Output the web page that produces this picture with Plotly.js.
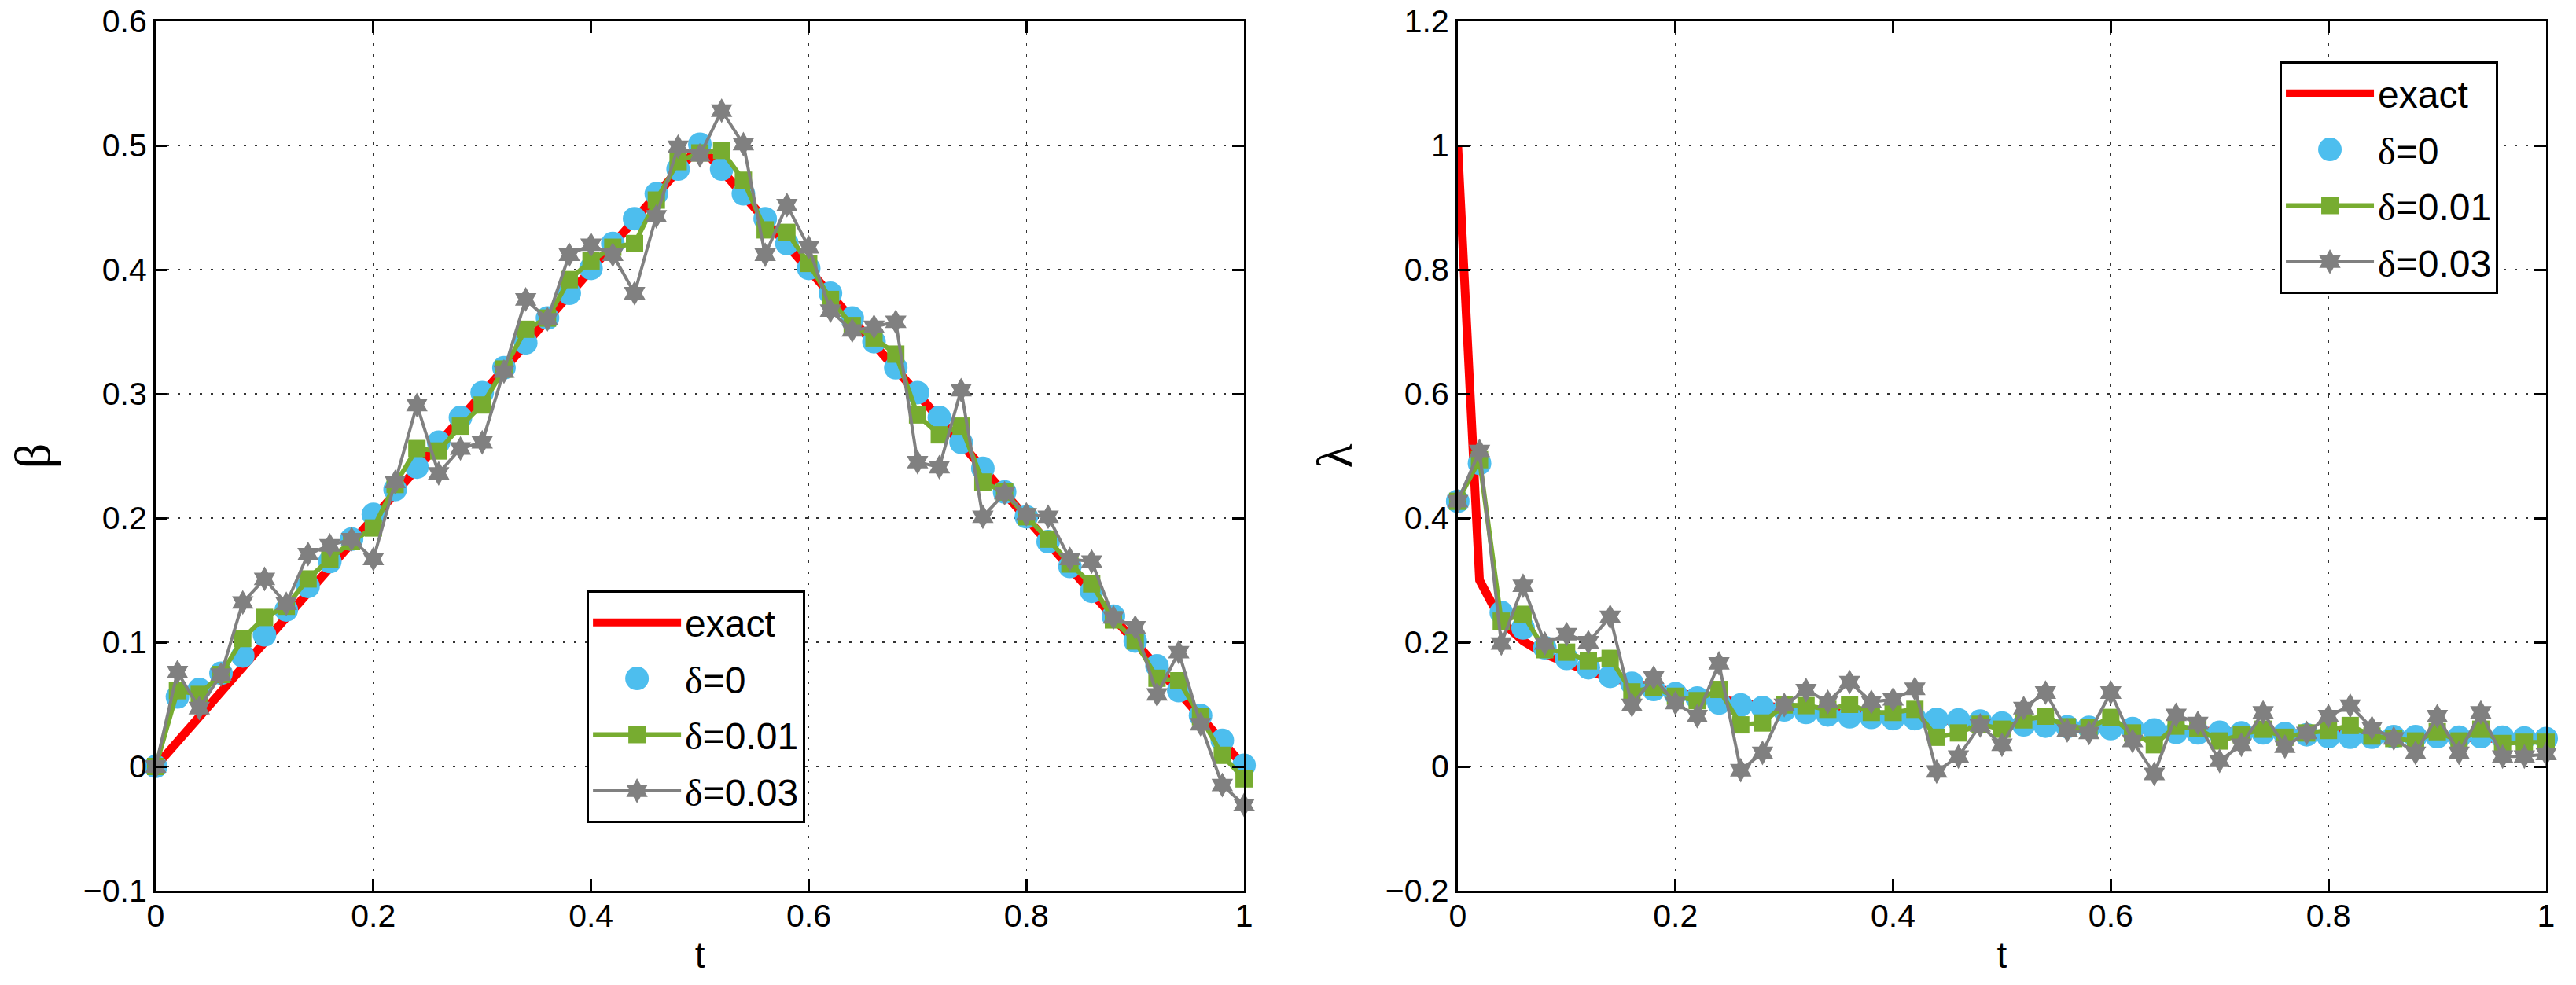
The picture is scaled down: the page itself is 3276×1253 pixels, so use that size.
<!DOCTYPE html>
<html>
<head>
<meta charset="utf-8">
<script src="https://cdn.plot.ly/plotly-3.0.1.min.js"></script>
<style>
  html, body { margin: 0; padding: 0; background: #fff; }
  #chart { width: 3276px; height: 1253px; }
</style>
</head>
<body>
<div id="chart"></div>
<script>
// sample times
const t = [0, 0.02, 0.04, 0.06, 0.08, 0.1, 0.12, 0.14, 0.16, 0.18, 0.2, 0.22, 0.24, 0.26, 0.28, 0.3, 0.32, 0.34, 0.36, 0.38, 0.4,
           0.42, 0.44, 0.46, 0.48, 0.5, 0.52, 0.54, 0.56, 0.58, 0.6, 0.62, 0.64, 0.66, 0.68, 0.7, 0.72, 0.74, 0.76, 0.78, 0.8,
           0.82, 0.84, 0.86, 0.88, 0.9, 0.92, 0.94, 0.96, 0.98, 1];

// beta (left panel)
const betaExact = [0, 0.02, 0.04, 0.06, 0.08, 0.1, 0.12, 0.14, 0.16, 0.18, 0.2, 0.22, 0.24, 0.26, 0.28, 0.3, 0.32, 0.34, 0.36, 0.38, 0.4,
                   0.42, 0.44, 0.46, 0.48, 0.5, 0.48, 0.46, 0.44, 0.42, 0.4, 0.38, 0.36, 0.34, 0.32, 0.3, 0.28, 0.26, 0.24, 0.22, 0.2,
                   0.18, 0.16, 0.14, 0.12, 0.1, 0.08, 0.06, 0.04, 0.02, 0];
const betaD0 = [0, 0.056, 0.062, 0.075, 0.089, 0.106, 0.126, 0.145, 0.165, 0.183, 0.203, 0.223, 0.241, 0.261, 0.281, 0.301, 0.321, 0.341, 0.361, 0.381, 0.401,
                0.421, 0.441, 0.461, 0.481, 0.501, 0.481, 0.461, 0.441, 0.421, 0.401, 0.381, 0.361, 0.342, 0.321, 0.301, 0.281, 0.261, 0.240, 0.221, 0.201,
                0.181, 0.161, 0.141, 0.121, 0.101, 0.081, 0.061, 0.041, 0.021, 0.001];
const betaD1 = [0, 0.061, 0.058, 0.074, 0.103, 0.120, 0.129, 0.151, 0.167, 0.181, 0.192, 0.227, 0.256, 0.254, 0.274, 0.291, 0.320, 0.352, 0.361, 0.392, 0.407,
                0.418, 0.421, 0.456, 0.487, 0.494, 0.496, 0.472, 0.432, 0.430, 0.405, 0.376, 0.355, 0.345, 0.332, 0.283, 0.267, 0.274, 0.229, 0.221, 0.201,
                0.183, 0.163, 0.147, 0.118, 0.101, 0.071, 0.069, 0.040, 0.009, -0.010];
const betaD3 = [0, 0.076, 0.047, 0.074, 0.132, 0.151, 0.131, 0.171, 0.178, 0.183, 0.167, 0.229, 0.291, 0.236, 0.256, 0.261, 0.318, 0.376, 0.360, 0.412, 0.420,
                0.412, 0.381, 0.443, 0.499, 0.492, 0.528, 0.501, 0.412, 0.452, 0.418, 0.367, 0.351, 0.354, 0.358, 0.245, 0.241, 0.303, 0.201, 0.220, 0.203,
                0.201, 0.167, 0.165, 0.120, 0.112, 0.058, 0.092, 0.034, -0.015, -0.031];

// lambda (right panel)
const lambdaExact = [1, 0.300, 0.234, 0.202, 0.181, 0.166, 0.153, 0.143, 0.134, 0.126, 0.119, 0.113, 0.107, 0.102, 0.098, 0.094, 0.090, 0.087, 0.084, 0.082, 0.079,
                     0.077, 0.075, 0.073, 0.071, 0.069, 0.067, 0.066, 0.064, 0.063, 0.061, 0.060, 0.059, 0.058, 0.056, 0.055, 0.054, 0.053, 0.052, 0.051, 0.050,
                     0.050, 0.049, 0.048, 0.047, 0.047, 0.046, 0.045, 0.045, 0.044, 0.043];
const lambdaD0 = [0.427, 0.488, 0.248, 0.223, 0.191, 0.174, 0.159, 0.145, 0.134, 0.124, 0.117, 0.110, 0.102, 0.099, 0.095, 0.091, 0.087, 0.083, 0.080, 0.079, 0.077,
                  0.077, 0.076, 0.075, 0.073, 0.070, 0.067, 0.065, 0.064, 0.063, 0.061, 0.061, 0.059, 0.055, 0.054, 0.055, 0.054, 0.054, 0.053, 0.051, 0.048,
                  0.047, 0.047, 0.048, 0.048, 0.048, 0.047, 0.048, 0.047, 0.046, 0.045];
const lambdaD1 = [0.427, 0.494, 0.234, 0.245, 0.188, 0.184, 0.170, 0.174, 0.120, 0.127, 0.113, 0.106, 0.124, 0.067, 0.070, 0.099, 0.098, 0.092, 0.100, 0.087, 0.087,
                  0.092, 0.047, 0.054, 0.068, 0.060, 0.075, 0.081, 0.064, 0.062, 0.079, 0.054, 0.035, 0.065, 0.061, 0.041, 0.051, 0.060, 0.047, 0.054, 0.058,
                  0.066, 0.049, 0.045, 0.041, 0.056, 0.041, 0.060, 0.037, 0.039, 0.039];
const lambdaD3 = [0.427, 0.508, 0.198, 0.291, 0.198, 0.213, 0.200, 0.241, 0.099, 0.143, 0.102, 0.081, 0.166, -0.006, 0.022, 0.099, 0.123, 0.104, 0.136, 0.104, 0.108,
                  0.125, -0.008, 0.016, 0.066, 0.035, 0.094, 0.119, 0.058, 0.054, 0.119, 0.041, -0.012, 0.083, 0.070, 0.009, 0.035, 0.087, 0.032, 0.054, 0.081,
                  0.098, 0.062, 0.045, 0.022, 0.081, 0.022, 0.087, 0.016, 0.016, 0.020];

const seriesNames = ['exact', '<span style="font-family:Liberation Serif">δ</span>=0',
                     '<span style="font-family:Liberation Serif">δ</span>=0.01',
                     '<span style="font-family:Liberation Serif">δ</span>=0.03'];

const sans = 'Liberation Sans, Arial, Helvetica, sans-serif';
const serif = 'Liberation Serif, Times New Roman, serif';

function panelTraces(ex, d0, d1, d3, xa, ya, leg) {
    const common = { x: t, xaxis: xa, yaxis: ya, legend: leg, cliponaxis: false, hoverinfo: 'skip' };
    return [
        Object.assign({}, common, { y: ex, name: seriesNames[0], legendgroup: leg + 'a', mode: 'lines',
            line: { color: '#ff0000', width: 11 } }),
        Object.assign({}, common, { y: d0, name: seriesNames[1], legendgroup: leg + 'b', mode: 'markers',
            marker: { symbol: 'circle', size: 30, color: '#4dbeee', line: { width: 0 } } }),
        Object.assign({}, common, { y: d1, name: seriesNames[2], legendgroup: leg + 'c', mode: 'lines+markers',
            line: { color: '#77ac30', width: 6 },
            marker: { symbol: 'square', size: 22, color: '#77ac30', line: { width: 0 } } }),
        Object.assign({}, common, { y: d3, name: seriesNames[3], legendgroup: leg + 'd', mode: 'lines+markers',
            line: { color: '#808080', width: 4 },
            marker: { symbol: 'hexagram', size: 24, color: '#808080', line: { width: 0 } } })
    ];
}

const data = panelTraces(betaExact, betaD0, betaD1, betaD3, 'x', 'y', 'legend')
    .concat(panelTraces(lambdaExact, lambdaD0, lambdaD1, lambdaD3, 'x2', 'y2', 'legend2'));

const axisBase = {
    showline: true, linecolor: '#000', linewidth: 3, mirror: 'ticks',
    ticks: 'inside', ticklen: 15, tickwidth: 3, tickcolor: '#000',
    showgrid: true, gridcolor: '#333', gridwidth: 1.3, griddash: '3px,11px',
    zeroline: false,
    tickfont: { family: sans, size: 41, color: '#000' }
};

function xAxis(domain, anchor) {
    return Object.assign({}, axisBase, {
        domain: domain, anchor: anchor, range: [0, 1], tickmode: 'linear', tick0: 0, dtick: 0.2,
        ticklabelstandoff: -6,
        title: { text: 't', font: { family: sans, size: 46, color: '#000' }, standoff: 12 }
    });
}
function yAxis(range, dtick, anchor, label) {
    return Object.assign({}, axisBase, {
        anchor: anchor, range: range, tickmode: 'linear', tick0: 0, dtick: dtick,
        title: { text: label, font: { family: serif, size: 64, color: '#000' }, standoff: 22 }
    });
}

const legendBase = {
    xanchor: 'left', yanchor: 'top', bgcolor: '#fff', bordercolor: '#000', borderwidth: 3,
    font: { family: sans, size: 48, color: '#000' }, itemwidth: 112,
    traceorder: 'grouped', tracegroupgap: 6
};

const layout = {
    width: 3276, height: 1253,
    margin: { l: 198, r: 38, t: 27, b: 120, pad: 0 },
    paper_bgcolor: '#fff', plot_bgcolor: '#fff',
    showlegend: true,
    xaxis: xAxis([0, 0.4553], 'y'),
    yaxis: yAxis([-0.1, 0.6], 0.1, 'x', 'β'),
    xaxis2: xAxis([0.5447, 1], 'y2'),
    yaxis2: yAxis([-0.2, 1.2], 0.2, 'x2', 'λ'),
    legend: Object.assign({}, legendBase, { x: 0.1803, y: 0.3454 }),
    legend2: Object.assign({}, legendBase, { x: 0.8885, y: 0.9539 })
};

const config = { displayModeBar: false, staticPlot: true };

const chart = document.getElementById('chart');

// legend symbols are capped at 16px by plotly; blow them up to the trace marker size
function scaleLegendMarkers() {
    chart.querySelectorAll('g.traces').forEach(function (tr) {
        const pts = tr.querySelectorAll('.legendpoints path.scatterpts');
        if (!pts.length) return;
        const d = tr.__data__;
        const trace = d && d[0] && d[0].trace;
        if (!trace || !trace.marker || !trace.marker.size) return;
        const k = Math.max(trace.marker.size / 16, 1);
        pts.forEach(function (p) {
            if (p.dataset.base === undefined) p.dataset.base = p.getAttribute('transform') || '';
            p.setAttribute('transform', p.dataset.base + ' scale(' + k + ')');
        });
    });
}

Plotly.newPlot(chart, data, layout, config).then(function () {
    scaleLegendMarkers();
    chart.on('plotly_afterplot', scaleLegendMarkers);
});
</script>
</body>
</html>
